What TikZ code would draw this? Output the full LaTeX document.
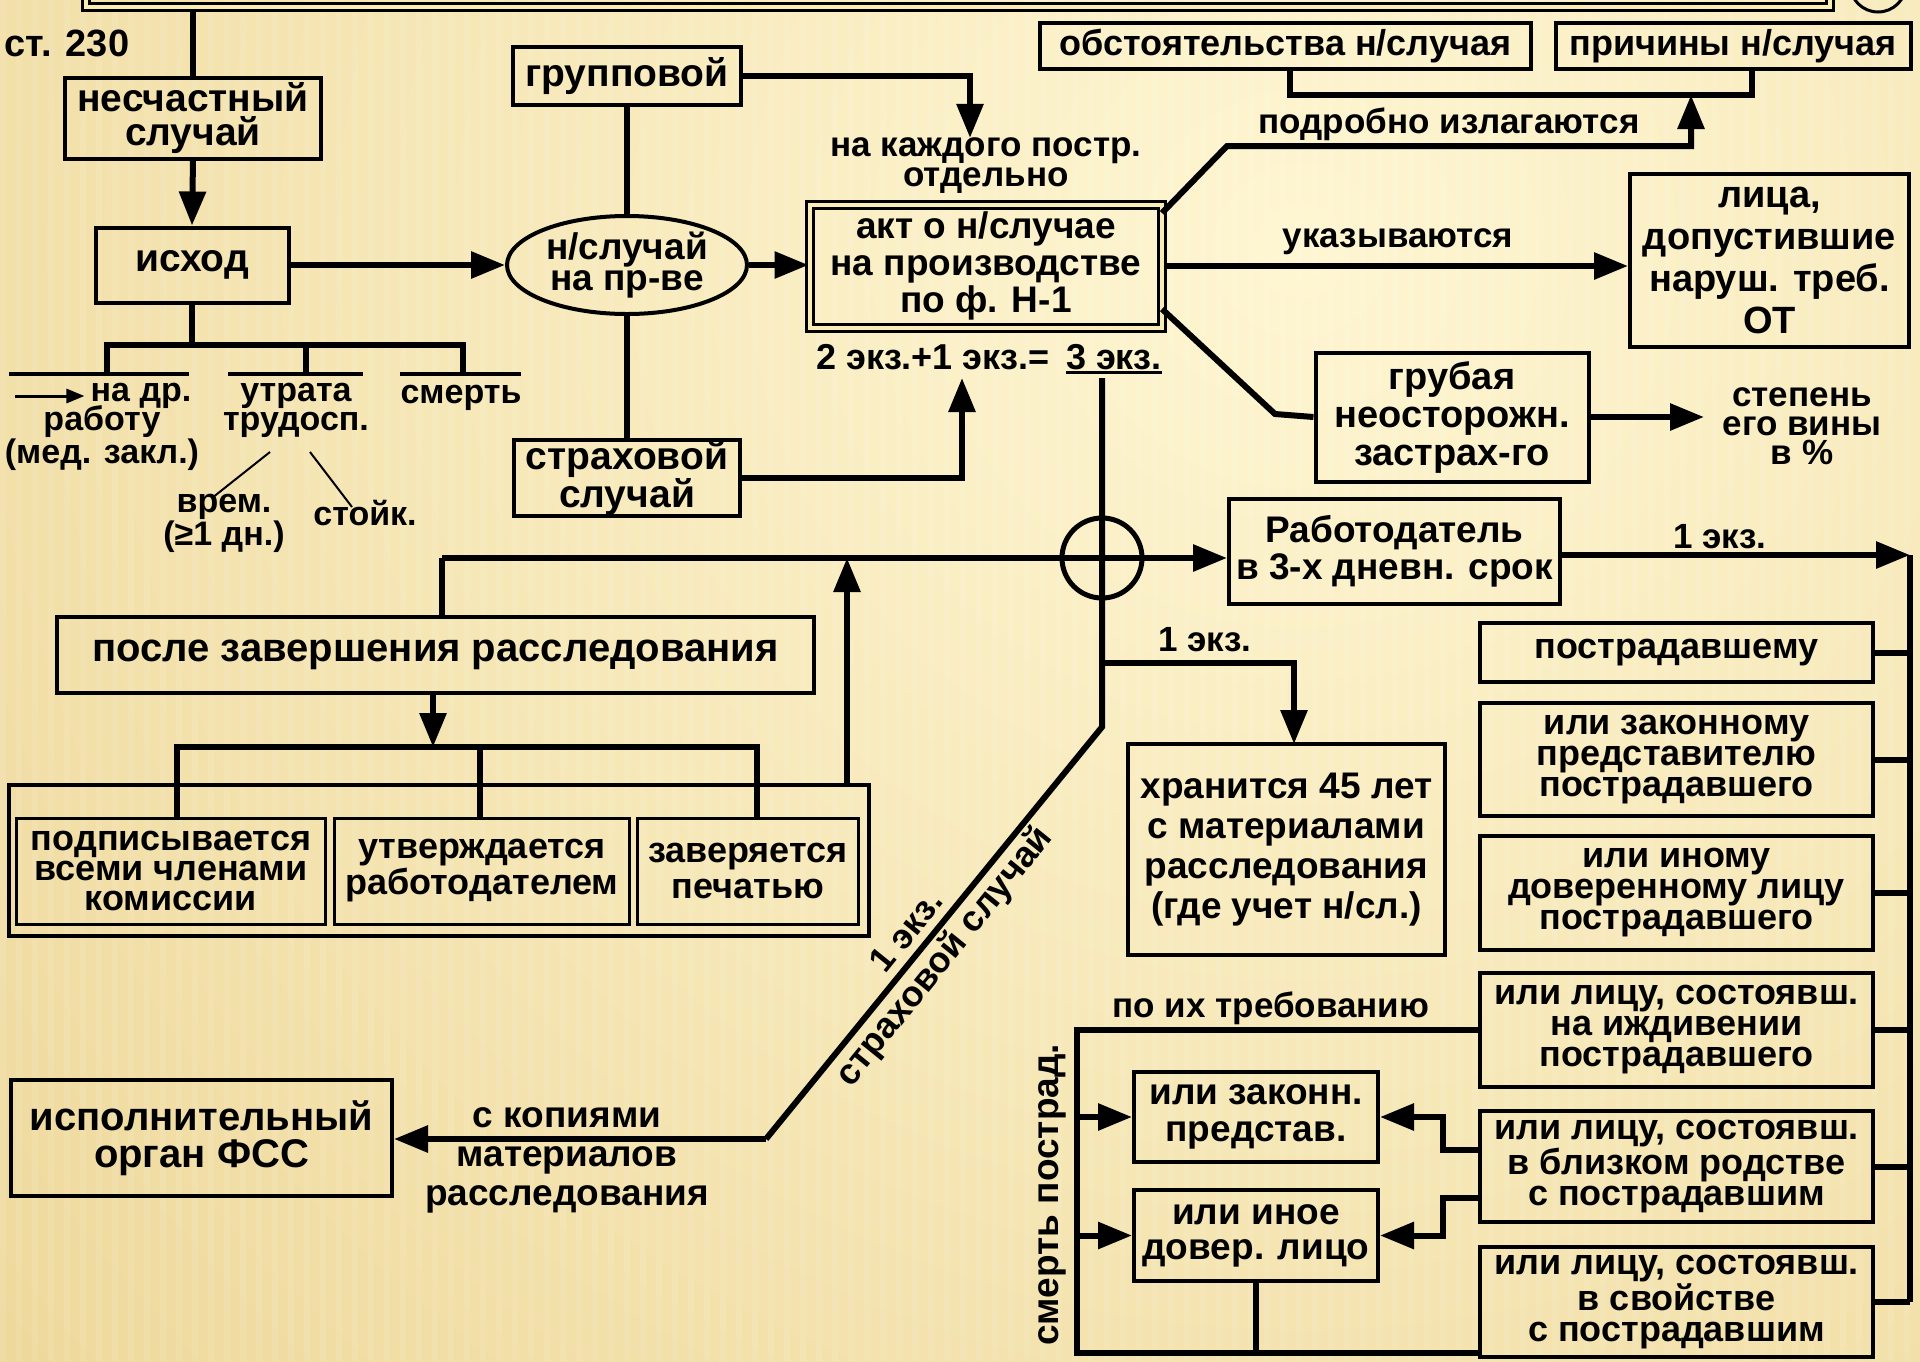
\documentclass[tikz,border=0pt]{standalone}
\usepackage{fontspec}
\setmainfont{Liberation Sans}
\usetikzlibrary{arrows.meta,shapes.geometric}
\definecolor{bglight}{RGB}{254,246,210}
\definecolor{bgdark}{RGB}{228,198,122}
\definecolor{bgmid}{RGB}{250,236,182}
\newcommand{\fsz}[2]{\fontsize{#1}{#2}\selectfont}
\begin{document}
\begin{tikzpicture}[x=1pt,y=-1pt,
  every node/.style={inner sep=0pt, align=center, font=\bfseries\fsz{37}{33}},
  box/.style={draw, line width=4pt},
  ibox/.style={draw, line width=3pt},
  dbl/.style={draw, line width=3pt, double=bgmid, double distance=4pt},
  conn/.style={line width=6pt},
  bar/.style={line width=4pt},
  thinl/.style={line width=2pt},
  arr/.style={line width=6pt, -{Triangle[length=34pt,width=26pt]}},
  sarr/.style={line width=3pt, -{Triangle[length=18pt,width=14pt]}},
  col/.style={box, minimum width=393, font=\bfseries\fsz{36}{31}},
  lbl/.style={font=\bfseries\fsz{35}{30}}
]
\useasboundingbox (0,0) rectangle (1920,1361);
\fill[bgdark] (0,0) rectangle (1920,1361);
\begin{scope}
  \clip (0,0) rectangle (1920,1361);
  \shade[inner color=bglight, outer color=bgdark] (-1500,-2550) rectangle (4100,3050);
  \foreach \x in {0,16,...,1920} \fill[white,opacity=0.09] (\x,0) rectangle (\x+6,1361);
\end{scope}

% title remnants
\node[dbl, minimum width=1744, minimum height=80] (title) at (958,-33) {};
\node[draw, circle, line width=3pt, minimum size=56] (tcirc) at (1878,-16) {};

% left column
\node[font=\bfseries\fsz{38}{33}] (st) at (67,43) {ст. 230};
\node[box, minimum width=256, minimum height=81, font=\bfseries\fsz{39}{34}] (nesch) at (193,118) {несчастный\\случай};
\node[box, minimum width=193, minimum height=75, font=\bfseries\fsz{39}{34}] (iskhod) at (192,265) {исход};

\node[font=\bfseries\fsz{34}{28}] (nadr) at (141,396) {на др.};
\coordinate (sa) at (15,396);
\node[font=\bfseries\fsz{34}{28}] (rab) at (102,438) {работу\\(мед. закл.)};
\node[font=\bfseries\fsz{34}{29}] (utrata) at (296,410) {утрата\\трудосп.};
\node[font=\bfseries\fsz{34}{29}] (smert) at (461,398) {смерть};
\node[font=\bfseries\fsz{34}{33}] (vrem) at (224,523) {врем.\\(≥1 дн.)};
\node[font=\bfseries\fsz{34}{29}] (stoik) at (365,513) {стойк.};

% middle top
\node[box, minimum width=228, minimum height=58, font=\bfseries\fsz{39}{34}] (grup) at (627,76) {групповой};
\node[draw, ellipse, line width=4pt, minimum width=240, minimum height=98, font=\bfseries\fsz{37}{31}] (ell) at (627,265) {н/случай\\на пр-ве};
\node[box, minimum width=226, minimum height=74, font=\bfseries\fsz{39}{33}] (strakh) at (627,478) {страховой\\случай};
\node[lbl] (kazhd) at (986,166) {на каждого постр.\\отдельно};
\node[dbl, minimum width=352, minimum height=123, font=\bfseries\fsz{37}{37}] (akt) at (986,266) {акт о н/случае\\на производстве\\по ф. Н-1};
\node[font=\bfseries\fsz{36}{30}] (ekzA) at (933,357) {2 экз.+1 экз.=};
\node[font=\bfseries\fsz{36}{30}] (ekzB) at (1114,357) {3 экз.};
\draw[line width=3pt] ([yshift=-3pt]ekzB.south west) -- ([yshift=-3pt]ekzB.south east);

% top right
\node[box, minimum width=491, minimum height=46, font=\bfseries\fsz{36}{30}] (obst) at (1285.5,46) {обстоятельства н/случая};
\node[box, minimum width=355, minimum height=46, font=\bfseries\fsz{36}{30}] (prich) at (1733,46) {причины н/случая};
\node[lbl] (podrob) at (1449,124) {подробно излагаются};
\node[lbl] (ukaz) at (1398,242) {указываются};
\node[box, minimum width=279, minimum height=173, font=\bfseries\fsz{38}{42}] (lica) at (1769.5,260.5) {лица,\\допустившие\\наруш. треб.\\ОТ};
\node[box, minimum width=273, minimum height=129, font=\bfseries\fsz{38}{38}] (grub) at (1452,417) {грубая\\неосторожн.\\застрах-го};
\node[font=\bfseries\fsz{35}{29}] (stepen) at (1802,426) {степень\\его вины\\в \%};

% middle
\node[draw, circle, line width=5pt, minimum size=80] (cross) at (1102,558) {};
\node[box, minimum width=331, minimum height=105, font=\bfseries\fsz{37}{37}] (rabot) at (1394.5,551) {Работодатель\\в 3-х дневн. срок};
\node[lbl] (ekz1a) at (1720,537) {1 экз.};
\node[lbl] (ekz1b) at (1205,640) {1 экз.};
\node[box, minimum width=757, minimum height=76, font=\bfseries\fsz{40}{34}] (posle) at (435.5,655) {после завершения расследования};
\node[box, minimum width=860, minimum height=151] (grp) at (439,860) {};
\node[ibox, minimum width=309, minimum height=106, font=\bfseries\fsz{36}{30}] (podp) at (171,871) {подписывается\\всеми членами\\комиссии};
\node[ibox, minimum width=295, minimum height=106, font=\bfseries\fsz{36}{36}] (utv) at (482,871) {утверждается\\работодателем};
\node[ibox, minimum width=221, minimum height=106, font=\bfseries\fsz{36}{36}] (zav) at (748,871) {заверяется\\печатью};
\node[box, minimum width=317, minimum height=211, font=\bfseries\fsz{37}{40}] (khran) at (1286.5,849.5) {хранится 45 лет\\с материалами\\расследования\\(где учет н/сл.)};

% bottom left
\node[box, minimum width=381, minimum height=116, font=\bfseries\fsz{40}{37}] (ispoln) at (201.5,1138) {исполнительный\\орган ФСС};
\node (skop) at (567,1118) {с копиями};
\node[font=\bfseries\fsz{37}{39}] (mat) at (567,1180) {материалов\\расследования};
\node[lbl, rotate=51] (d1) at (906,931) {1 экз.};
\node[font=\bfseries\fsz{36}{30}, rotate=51] (d2) at (945,957) {страховой случай};

% right column
\node[col, minimum height=59] (postr) at (1676.5,652.5) {пострадавшему};
\node[col, minimum height=113] (zakon) at (1676.5,759.5) {или законному\\представителю\\пострадавшего};
\node[col, minimum height=114] (inomu) at (1676.5,893) {или иному\\доверенному лицу\\пострадавшего};
\node[col, minimum height=114] (izhd) at (1676.5,1030) {или лицу, состоявш.\\на иждивении\\пострадавшего};
\node[col, minimum height=111] (rodst) at (1676.5,1166.5) {или лицу, состоявш.\\в близком родстве\\с пострадавшим};
\node[col, minimum height=110] (svoist) at (1676.5,1302) {или лицу, состоявш.\\в свойстве\\с пострадавшим};

% bottom middle
\node[lbl] (poih) at (1271,1008) {по их требованию};
\node[rotate=90] (smertp) at (1052,1195) {смерть пострад.};
\node[box, minimum width=244, minimum height=90, font=\bfseries\fsz{37}{37}] (zakonn) at (1256,1117) {или законн.\\представ.};
\node[box, minimum width=244, minimum height=91, font=\bfseries\fsz{37}{35}] (inoe) at (1256,1235.5) {или иное\\довер. лицо};

% ---------- coordinates ----------
\coordinate (t0) at (192,345);
\coordinate (c1) at (970,76);
\coordinate (ekzup) at (962,378);
\coordinate (v0) at (1102,378);
\coordinate (v1) at (1102,663);
\coordinate (v2) at (1102,727);
\coordinate (v3) at (766,1139);
\coordinate (h0) at (442,558);
\coordinate (u0) at (847,785);
\coordinate (dn) at (433,692);
\coordinate (b0) at (433,747);
\coordinate (a1) at (1162,213);
\coordinate (a2) at (1162,309);
\coordinate (br) at (1691,95);
\coordinate (r0) at (1910,555);
\coordinate (r1) at (1910,1302);
\coordinate (f0) at (1077,1032);
\coordinate (f1) at (1077,1353);
\coordinate (st1) at (1704,417);

% ---------- connectors ----------
\draw[conn] (nesch.north |- title.south) -- (nesch.north);
\draw[arr] (nesch.south) -- (iskhod.north);
\draw[arr] (iskhod.east) -- (ell.west);
\draw[conn] (iskhod.south) -- (t0);
\draw[conn] (107,376) -- (107,345) -- (463,345) -- (463,376);
\draw[conn] (306,345) -- (306,376);
\draw[bar] (9,374) -- (189,374);
\draw[bar] (228,374) -- (363,374);
\draw[bar] (400,374) -- (521,374);
\draw[sarr] (sa) -- ([xshift=-6pt]nadr.west);
\draw[thinl] (270,452) -- (212,498);
\draw[thinl] (310,452) -- (352,507);

\draw[conn] (grup.south) -- (ell.north);
\draw[conn] (ell.south) -- (strakh.north);
\draw[arr] (grup.east) -- (c1) -- (c1 |- kazhd.north);
\draw[arr] (ell.east) -- (akt.west |- ell.east);
\draw[arr] (strakh.east) -| (ekzup);

\draw[conn] (obst.south -| 1290,0) -- (1290,95) -- (1752,95) -- (1752,69);
\draw[arr] (a1) -- (1227,146) -- (1691,146) -- (br);
\draw[arr] (akt.east) -- (akt.east -| lica.west);
\draw[conn] (a2) -- (1275,414) -- (grub.west);
\draw[arr] (grub.east) -- (st1);

\draw[conn] (v0) -- (v2) -- (v3);
\draw[arr] (v3) -- (ispoln.east |- v3);
\draw[conn] (h0 |- posle.north) -- (h0);
\draw[arr] (h0) -- (rabot.west |- h0);
\draw[arr] (u0) -- (u0 |- h0);
\draw[arr] (dn) -- (b0);
\draw[conn] (177,818) -- (177,747) -- (757,747) -- (757,818);
\draw[conn] (480,747) -- (480,818);
\draw[arr] (v1) -- (1294,663) -- (1294,744);

\draw[arr] (rabot.east |- r0) -- (r0);
\draw[conn] (r0) -- (r1);
\foreach \n in {postr,zakon,inomu,izhd,rodst,svoist}
  \draw[conn] (\n.east) -- (\n.east -| r0);

\draw[conn] (izhd.west) -- (izhd.west -| f0) -- (f1) -- (svoist.west |- f1);
\draw[arr] (f0 |- zakonn.west) -- (zakonn.west);
\draw[arr] (f0 |- inoe.west) -- (inoe.west);
\draw[conn] (inoe.south) -- (inoe.south |- f1);
\draw[arr] (rodst.west |- 0,1150) -- (1443,1150) -- (1443,1117) -- (zakonn.east);
\draw[arr] (rodst.west |- 0,1198) -- (1443,1198) -- (1443,1235.5) -- (inoe.east);
\end{tikzpicture}
\end{document}
